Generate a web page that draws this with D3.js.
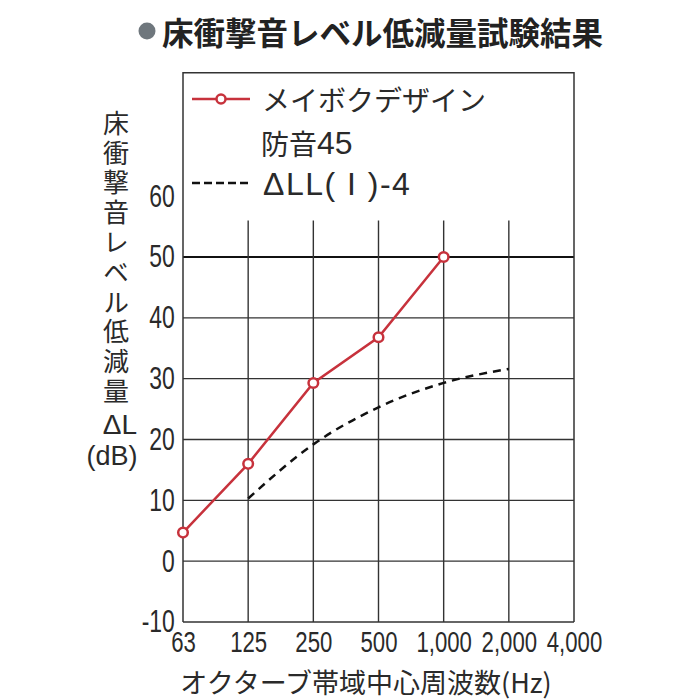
<!DOCTYPE html>
<html>
<head>
<meta charset="utf-8">
<script src="https://cdn.jsdelivr.net/npm/d3@7"></script>
<style>
  body { margin: 0; background: #fff; }
  .num { font-family: "Liberation Sans", Arial, sans-serif; }
  .jp { font-family: "Noto Sans CJK JP", "Noto Sans", sans-serif; }
</style>
</head>
<body>
<div id="chart"></div>
<script>
// octave band centre frequencies (Hz)
const bands = ["63", "125", "250", "500", "1,000", "2,000", "4,000"];
// measured reduction, メイボクデザイン 防音45
const measuredBands = ["63", "125", "250", "500", "1,000"];
const measured = [4.7, 16.0, 29.3, 36.8, 50.0];
// reference curve ΔLL(I)-4
const refBands = ["125", "250", "500", "1,000", "2,000"];
const refCurve = [10.3, 19.2, 25.3, 29.3, 31.6];
const yTicks = [-10, 0, 10, 20, 30, 40, 50, 60];
const gridValues = [-10, 0, 10, 20, 30, 40, 50];

const width = 700, height = 700;
const margin = {left: 183, right: 126, bottom: 78};
const squeeze = "scale(0.74,1)"; // numbers in the original are a condensed face

const svg = d3.select("#chart")
  .append("svg")
  .attr("width", width)
  .attr("height", height);

let x = d3.scalePoint(bands, [margin.left, width - margin.right]);
let y = d3.scaleLinear([-10, 50], [height - margin.bottom, 257]);

const ink = "#2a2a2a";

// title
svg.append("circle")
  .attr("cx", 147).attr("cy", 31).attr("r", 8.5)
  .attr("fill", "#6f777d");
svg.append("text")
  .attr("class", "jp")
  .attr("x", 162).attr("y", 31)
  .attr("dominant-baseline", "central")
  .style("font-size", "31.5px")
  .style("font-weight", "bold")
  .attr("fill", "#222")
  .text("床衝撃音レベル低減量試験結果");

// horizontal grid
svg.append("g")
  .selectAll("line")
  .data(gridValues)
  .join("line")
  .attr("x1", x("63"))
  .attr("x2", x("4,000"))
  .attr("y1", d => y(d))
  .attr("y2", d => y(d))
  .attr("stroke", d => d === 50 ? "#111" : "#333")
  .attr("stroke-width", d => d === 50 ? 2 : 1.4);

// vertical grid (stops a little above 50)
svg.append("g")
  .selectAll("line")
  .data(bands.slice(1, -1))
  .join("line")
  .attr("x1", d => x(d))
  .attr("x2", d => x(d))
  .attr("y1", y(-10))
  .attr("y2", y(56))
  .attr("stroke", "#333")
  .attr("stroke-width", 1.4);

// frame around plot + legend
svg.append("path")
  .attr("d", `M${x("63")},${y(-10)}V${y(80.3)}H${x("4,000")}V${y(-10)}`)
  .attr("fill", "none")
  .attr("stroke", "#333")
  .attr("stroke-width", 1.5);

// y axis labels
svg.append("g")
  .attr("transform", `translate(${x("63")},0)`)
  .call(d3.axisLeft(y).tickValues(yTicks).tickSize(0).tickPadding(11).tickFormat(d => String(d)))
  .call(g => g.select(".domain").remove())
  .selectAll("text")
  .attr("class", "num")
  .attr("transform", squeeze)
  .attr("fill", ink)
  .style("font-size", "31px");

// x axis labels
svg.append("g")
  .attr("transform", `translate(0,${y(-10)})`)
  .call(d3.axisBottom(x).tickSize(0).tickPadding(9))
  .call(g => g.select(".domain").remove())
  .selectAll("text")
  .attr("class", "num")
  .attr("transform", squeeze)
  .attr("fill", ink)
  .style("font-size", "30px");

// axis titles
svg.append("text")
  .attr("class", "jp")
  .attr("x", 366).attr("y", 681)
  .attr("text-anchor", "middle")
  .attr("dominant-baseline", "central")
  .style("font-size", "27px")
  .attr("fill", ink)
  .text("オクターブ帯域中心周波数(Hz)");

svg.append("text")
  .attr("class", "jp")
  .attr("x", 116).attr("y", 110)
  .attr("writing-mode", "vertical-rl")
  .style("font-size", "26px")
  .style("letter-spacing", "3.8px")
  .attr("fill", ink)
  .text("床衝撃音レベル低減量");
svg.append("text")
  .attr("class", "num")
  .attr("x", 120).attr("y", 424)
  .attr("text-anchor", "middle")
  .attr("dominant-baseline", "central")
  .style("font-size", "28px")
  .attr("fill", ink)
  .text("ΔL");
svg.append("text")
  .attr("class", "num")
  .attr("x", 112).attr("y", 456)
  .attr("text-anchor", "middle")
  .attr("dominant-baseline", "central")
  .style("font-size", "27px")
  .attr("fill", ink)
  .text("(dB)");

const red = "#c7323c";

// reference dashed curve
const refLine = d3.line()
  .x((d, i) => x(refBands[i]))
  .y(d => y(d))
  .curve(d3.curveMonotoneX);
svg.append("path")
  .datum(refCurve)
  .attr("d", refLine)
  .attr("fill", "none")
  .attr("stroke", "#111")
  .attr("stroke-width", 2.5)
  .attr("stroke-dasharray", "8,6");

// measured line
const measLine = d3.line()
  .x((d, i) => x(measuredBands[i]))
  .y(d => y(d));
svg.append("path")
  .datum(measured)
  .attr("d", measLine)
  .attr("fill", "none")
  .attr("stroke", red)
  .attr("stroke-width", 2.5);

svg.append("g")
  .selectAll("circle")
  .data(measured)
  .join("circle")
  .attr("cx", (d, i) => x(measuredBands[i]))
  .attr("cy", d => y(d))
  .attr("r", 4.8)
  .attr("fill", "#fff")
  .attr("stroke", red)
  .attr("stroke-width", 2.5);

// legend
const legend = svg.append("g");
legend.append("line")
  .attr("x1", 192).attr("x2", 250).attr("y1", 99).attr("y2", 99)
  .attr("stroke", red).attr("stroke-width", 2.5);
legend.append("circle")
  .attr("cx", 221).attr("cy", 99).attr("r", 4.5)
  .attr("fill", "#fff").attr("stroke", red).attr("stroke-width", 2.5);
legend.append("line")
  .attr("x1", 192).attr("x2", 250).attr("y1", 183).attr("y2", 183)
  .attr("stroke", "#111").attr("stroke-width", 2.5)
  .attr("stroke-dasharray", "8,4");

legend.append("text")
  .attr("class", "jp")
  .attr("x", 262).attr("y", 99)
  .attr("dominant-baseline", "central")
  .style("font-size", "28px")
  .attr("fill", ink)
  .text("メイボクデザイン");

const line2 = legend.append("text")
  .attr("x", 261).attr("y", 143)
  .attr("dominant-baseline", "central")
  .attr("fill", ink);
line2.append("tspan").attr("class", "jp").style("font-size", "28px").text("防音");
line2.append("tspan").attr("class", "num").style("font-size", "32px").text("45");

legend.append("text")
  .attr("class", "num")
  .attr("x", 263).attr("y", 184)
  .attr("dominant-baseline", "central")
  .style("font-size", "32px")
  .style("letter-spacing", "1.5px")
  .attr("fill", ink)
  .text("ΔLL( I )-4");
</script>
</body>
</html>
